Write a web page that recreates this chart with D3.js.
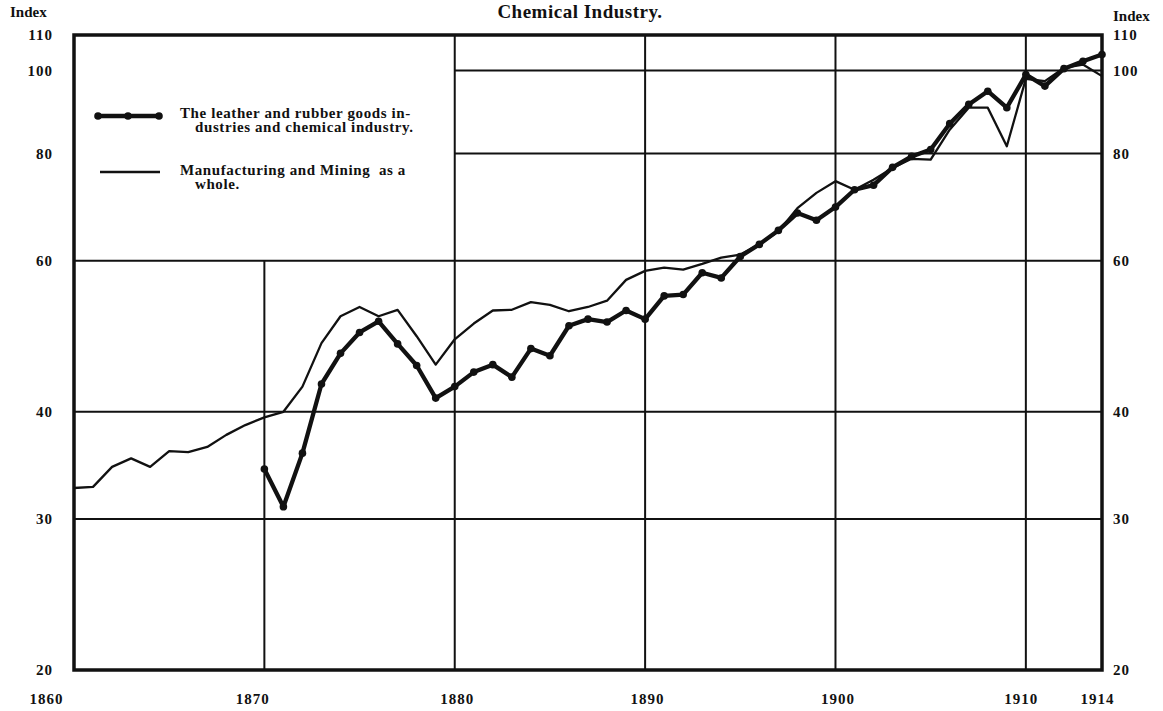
<!DOCTYPE html>
<html>
  <head>
    <!-- load the d3 javascript library -->
    <script src="https://d3js.org/d3.v7.min.js"></script>
    <style>
      body { margin: 0; background: #fff; }
      text { font-family: "Liberation Serif", "DejaVu Serif", serif; font-weight: bold; fill: #111; }
    </style>
  </head>
  <body>

    <script>

    // manufacturing and mining as a whole, 1860-1914
    var mfgYears = d3.range(1860, 1915);
    var mfgValues = [
      32.6, 32.7, 34.5, 35.3, 34.5, 36.0, 35.9, 36.4, 37.6, 38.6,
      39.4, 40.0, 42.8, 48.1, 51.7, 53.0, 51.7, 52.6, 49.0, 45.4,
      48.6, 50.7, 52.5, 52.6, 53.7, 53.3, 52.4, 53.0, 53.9, 57.0,
      58.4, 58.9, 58.6, 59.5, 60.5, 61.0, 62.7, 64.9, 69.1, 72.0,
      74.3, 72.6, 74.6, 77.0, 78.9, 78.7, 85.3, 90.5, 90.5, 81.6,
      97.8, 97.2, 100.7, 101.6, 98.5
    ];

    // leather and rubber goods industries and chemical industry, 1870-1914
    var chemYears = d3.range(1870, 1915);
    var chemValues = [
      34.3, 31.0, 35.8, 43.1, 46.8, 49.5, 51.0, 48.0, 45.3, 41.5,
      42.8, 44.5, 45.4, 43.9, 47.4, 46.5, 50.4, 51.3, 50.9, 52.5,
      51.3, 54.6, 54.8, 58.1, 57.3, 60.7, 62.7, 65.1, 68.2, 66.9,
      69.3, 72.6, 73.5, 77.1, 79.4, 80.9, 86.7, 91.3, 94.6, 90.5,
      98.9, 95.9, 100.5, 102.5, 104.4
    ];

    // tick labels
    var yTicks = [20, 30, 40, 60, 80, 100, 110];
    var xTicks = [1860, 1870, 1880, 1890, 1900, 1910, 1914];

    var w = 1163;
    var h = 711;

    var svg = d3.select("body")
      .append("svg")
      .attr("width", w)
      .attr("height", h);

    var x = d3.scaleLinear()
      .domain([1860, 1914])
      .range([74, 1102]);

    // index scale is logarithmic
    var y = d3.scaleLog()
      .domain([20, 110])
      .range([670, 35]);

    // horizontal gridlines (80 and 100 stop at the legend box)
    var hGrid = [
      {v: 30, from: 1860}, {v: 40, from: 1860}, {v: 60, from: 1860},
      {v: 80, from: 1880}, {v: 100, from: 1880}
    ];
    svg.selectAll("line.hgrid")
      .data(hGrid)
      .enter()
      .append("line")
      .attr("class", "hgrid")
      .attr("x1", function(d) { return x(d.from); })
      .attr("x2", x(1914))
      .attr("y1", function(d) { return y(d.v); })
      .attr("y2", function(d) { return y(d.v); })
      .attr("stroke", "#111")
      .attr("stroke-width", 2);

    // vertical gridlines (1870 stops at the legend box)
    var vGrid = [
      {yr: 1870, top: 60}, {yr: 1880, top: 110}, {yr: 1890, top: 110},
      {yr: 1900, top: 110}, {yr: 1910, top: 110}
    ];
    svg.selectAll("line.vgrid")
      .data(vGrid)
      .enter()
      .append("line")
      .attr("class", "vgrid")
      .attr("x1", function(d) { return x(d.yr); })
      .attr("x2", function(d) { return x(d.yr); })
      .attr("y1", function(d) { return y(d.top); })
      .attr("y2", y(20))
      .attr("stroke", "#111")
      .attr("stroke-width", 2);

    // outer frame
    svg.append("rect")
      .attr("x", x(1860))
      .attr("y", y(110))
      .attr("width", x(1914) - x(1860))
      .attr("height", y(20) - y(110))
      .attr("fill", "none")
      .attr("stroke", "#111")
      .attr("stroke-width", 3.5);

    // thin line
    var mfgLine = d3.line()
      .x(function(d, i) { return x(mfgYears[i]); })
      .y(function(d) { return y(d); });

    svg.append("path")
      .datum(mfgValues)
      .attr("d", mfgLine)
      .attr("fill", "none")
      .attr("stroke", "#111")
      .attr("stroke-width", 2.3)
      .attr("stroke-linejoin", "round");

    // thick line with dots
    var chemLine = d3.line()
      .x(function(d, i) { return x(chemYears[i]); })
      .y(function(d) { return y(d); });

    svg.append("path")
      .datum(chemValues)
      .attr("d", chemLine)
      .attr("fill", "none")
      .attr("stroke", "#111")
      .attr("stroke-width", 4.3)
      .attr("stroke-linejoin", "round");

    svg.selectAll("circle.chem")
      .data(chemValues)
      .enter()
      .append("circle")
      .attr("class", "chem")
      .attr("cx", function(d, i) { return x(chemYears[i]); })
      .attr("cy", function(d) { return y(d); })
      .attr("r", 3.8)
      .attr("fill", "#111");

    // axes (labels only)
    var fmt = d3.format("d");
    var left = svg.append("g")
      .attr("transform", "translate(" + x(1860) + ",0)")
      .call(d3.axisLeft(y).tickValues(yTicks).tickFormat(fmt).tickSize(0).tickPadding(21));
    var right = svg.append("g")
      .attr("transform", "translate(" + x(1914) + ",0)")
      .call(d3.axisRight(y).tickValues(yTicks).tickFormat(fmt).tickSize(0).tickPadding(11));
    var bottom = svg.append("g")
      .attr("transform", "translate(0," + y(20) + ")")
      .call(d3.axisBottom(x).tickValues(xTicks).tickFormat(fmt).tickSize(0).tickPadding(23));

    [left, right, bottom].forEach(function(g) {
      g.select(".domain").remove();
      g.selectAll("text")
        .attr("font-family", "Liberation Serif, DejaVu Serif, serif")
        .attr("font-weight", "bold")
        .attr("font-size", "15px")
        .attr("letter-spacing", "1px")
        .attr("fill", "#111");
    });
    // the first two year labels sit a little left of their gridlines
    bottom.selectAll("text")
      .attr("dx", function(d) { return d === 1860 ? -28 : d === 1870 ? -12 : d >= 1910 ? -5 : 2; });

    // axis captions and title
    svg.append("text").attr("x", 10).attr("y", 17).attr("font-size", "15px").text("Index");
    svg.append("text").attr("x", 1113).attr("y", 21).attr("font-size", "15px").text("Index");
    svg.append("text")
      .attr("x", 580).attr("y", 18)
      .attr("text-anchor", "middle")
      .attr("font-size", "19px")
      .attr("letter-spacing", "0.5px")
      .text("Chemical Industry.");

    // legend
    var lg = svg.append("g");
    lg.append("line")
      .attr("x1", 98).attr("x2", 159).attr("y1", 116).attr("y2", 116)
      .attr("stroke", "#111").attr("stroke-width", 4.3);
    lg.selectAll("circle")
      .data([98, 128, 159])
      .enter()
      .append("circle")
      .attr("cx", function(d) { return d; })
      .attr("cy", 116)
      .attr("r", 3.8)
      .attr("fill", "#111");
    lg.append("line")
      .attr("x1", 100).attr("x2", 160).attr("y1", 172).attr("y2", 172)
      .attr("stroke", "#111").attr("stroke-width", 2.3);

    var legendText = [
      {x: 180, y: 118, t: "The leather and rubber goods in-"},
      {x: 195, y: 132, t: "dustries and chemical industry."},
      {x: 180, y: 175, t: "Manufacturing and Mining  as a"},
      {x: 195, y: 189, t: "whole."}
    ];
    lg.selectAll("text")
      .data(legendText)
      .enter()
      .append("text")
      .attr("x", function(d) { return d.x; })
      .attr("y", function(d) { return d.y; })
      .attr("font-size", "15px")
      .attr("letter-spacing", "0.6px")
      .style("white-space", "pre")
      .text(function(d) { return d.t; });

    </script>
  </body>
</html>
